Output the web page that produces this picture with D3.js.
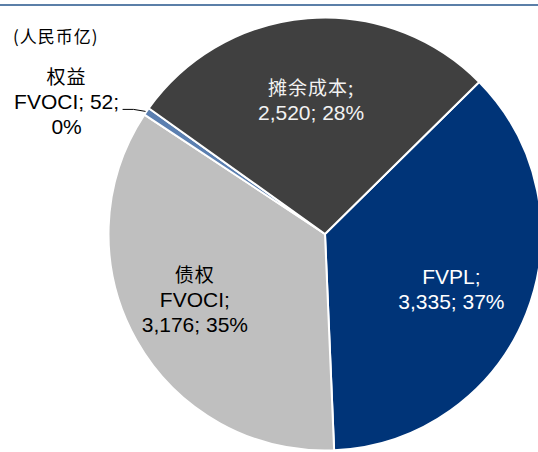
<!DOCTYPE html>
<html>
<head>
<meta charset="utf-8">
<script src="https://cdn.jsdelivr.net/npm/d3@7"></script>
<style>
  body { margin:0; background:#fff; }
  text { font-family: "Liberation Sans", Arial, "Noto Sans CJK SC", sans-serif; }
</style>
</head>
<body>
<div id="pie"></div>
<script>
// slices in drawing order (clockwise from the upper right)
const labelsCn = ["", "债权", "权益", "摊余成本;"];
const labelsEn = ["FVPL;", "FVOCI;", "FVOCI; 52;", ""];
const values = [3335, 3176, 52, 2520];
const pcts = ["37%", "35%", "0%", "28%"];
const colors = ["#003478", "#bfbfbf", "#5b7fb0", "#404040"];
const textColors = ["#ffffff", "#000000", "#000000", "#f2f2f2"];
const unit = "(人民币亿)";

const W = 538, H = 452;
const cx = 325, cy = 234, R = 216.5;

const svg = d3.select("#pie").append("svg").attr("width", W).attr("height", H);

// thin rule at the very top (title row above it is cut off)
svg.append("rect").attr("x", 0).attr("y", 4).attr("width", W).attr("height", 2).attr("fill", "#5b7fa8");

svg.append("text").attr("x", 13).attr("y", 43)
  .style("font-family", "'Noto Sans CJK SC', serif").style("font-size", "17px")
  .style("letter-spacing", "1px")
  .text(unit);

const g = svg.append("g").attr("transform", `translate(${cx},${cy})`);

const pie = d3.pie().sort(null).value(d => d)
  .startAngle(45.4 * Math.PI / 180).endAngle((45.4 + 360) * Math.PI / 180);
const arcs = pie(values);

const arc = d3.arc().innerRadius(0).outerRadius(R);
const labelArc = d3.arc().innerRadius(138).outerRadius(138);
const edgeArc = d3.arc().innerRadius(R).outerRadius(R);

g.selectAll("path.slice").data(arcs).enter().append("path")
  .attr("class", "slice")
  .attr("d", arc)
  .attr("fill", (d, i) => colors[i])
  .attr("stroke", "#fff")
  .attr("stroke-width", 2)
  .attr("stroke-linejoin", "round");

// small nudges so the labels sit where Excel put them
const nudge = [[-2, 4.5], [-10, -2], null, [-3, 4]];
const lh = 25;

arcs.forEach((d, i) => {
  let lines = [];
  if (i === 0) lines = [labelsEn[i], values[i].toLocaleString("en-US") + "; " + pcts[i]];
  if (i === 1) lines = [labelsCn[i], labelsEn[i], values[i].toLocaleString("en-US") + "; " + pcts[i]];
  if (i === 3) lines = [labelsCn[i], values[i].toLocaleString("en-US") + "; " + pcts[i]];
  if (i === 2) return;
  const [px, py] = labelArc.centroid(d);
  const x = px + nudge[i][0], y = py + nudge[i][1];
  const t = g.append("text").attr("text-anchor", "middle").attr("fill", textColors[i])
    .style("font-size", "21px");
  lines.forEach((s, k) => {
    const cjk = /[\u4e00-\u9fff]/.test(s);
    t.append("tspan").attr("x", x)
      .attr("y", y - (lines.length - 1) * lh / 2 + 7.5 + k * lh)
      .style("font-family", cjk ? "'Noto Sans CJK SC', serif" : null)
      .style("font-size", cjk ? "19px" : null)
      .style("letter-spacing", cjk ? "1px" : null)
      .text(s);
  });
});

// outside label with leader for the tiny equity slice
const eq = arcs[2];
const [ex, ey] = edgeArc.centroid(eq);
const lx = -R * 0.935, ly = ey - 2;
g.append("path")
  .attr("d", d3.line()([[lx, ly], [lx + 11, ly], [ex - 1, ey]]))
  .attr("fill", "none").attr("stroke", "#000").attr("stroke-width", 1);

const eqLines = [labelsCn[2], labelsEn[2], pcts[2]];
const etx = lx - 56;
const et = g.append("text").attr("text-anchor", "middle").attr("fill", "#000").style("font-size", "21px");
eqLines.forEach((s, k) => {
  const cjk = /[\u4e00-\u9fff]/.test(s);
  et.append("tspan").attr("x", etx).attr("y", ly - 25 + k * lh)
    .style("font-family", cjk ? "'Noto Sans CJK SC', serif" : null)
    .style("font-size", cjk ? "19px" : null)
    .style("letter-spacing", cjk ? "1px" : null)
    .text(s);
});
</script>
</body>
</html>
